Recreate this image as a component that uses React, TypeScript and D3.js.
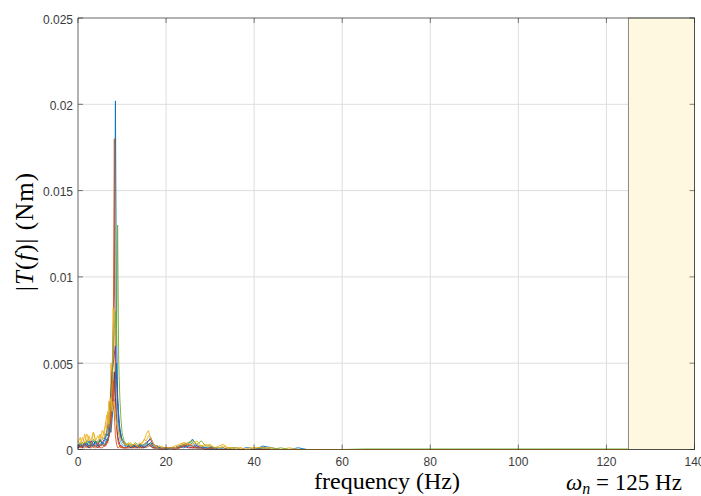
import React from "react";
import * as d3 from "d3";

// frequency grid (Hz) shared by every spectrum
const freqs = [
  0, 0.5, 1, 1.5, 2, 2.5, 3, 3.5, 4, 4.5, 5, 5.5, 6,
  6.25, 6.5, 6.75, 7, 7.25, 7.5, 7.75, 8, 8.25, 8.5, 8.75, 9, 9.25, 9.5, 9.75, 10, 10.25, 10.5, 10.75, 11,
  11.5, 12, 12.5, 13, 13.5, 14, 14.5, 15, 15.5, 16, 16.5, 17, 17.5, 18, 18.5, 19, 19.5, 20,
  21, 22, 23, 24, 25, 26, 27, 28, 29, 30, 31, 32, 33, 34, 35, 36, 37, 38, 39, 40,
  42, 44, 46, 48, 50, 52, 54, 56, 58, 60,
  65, 70, 75, 80, 85, 90, 95, 100, 105, 110, 115, 120, 125,
];

// |T(f)| per run, in units of 1e-4 Nm
const blueRun = [
  2, 4, 1, 4, 2, 5, 2, 5, 3, 2, 6, 3, 5,
  6, 9, 8, 14, 20, 28, 45, 70, 90, 202, 70, 30, 18, 12, 8, 6, 5, 4, 3, 3,
  3, 2, 2, 3, 2, 2, 1, 2, 3, 5, 7, 4, 2, 2, 1, 1, 1, 1,
  1, 1, 1, 2, 3, 6, 2, 2, 1, 1, 1, 1, 0, 1, 1, 1, 0, 1, 1, 0,
  2, 1, 0, 0, 1, 0, 0, 0, 0, 0,
  0, 0, 0, 0, 0, 0, 0, 0, 0, 0, 0, 0, 0,
];
const orangeRun = [
  1, 2, 1, 1, 2, 1, 1, 2, 1, 2, 1, 1, 2,
  2, 3, 5, 8, 15, 28, 45, 60, 180, 40, 15, 6, 3, 2, 1, 1, 1, 1, 1, 1,
  1, 1, 2, 1, 1, 1, 2, 1, 2, 3, 2, 1, 1, 1, 1, 1, 1, 1,
  1, 1, 2, 3, 2, 1, 1, 1, 1, 0, 1, 0, 0, 1, 0, 0, 0, 0, 0, 0,
  1, 0, 0, 0, 0, 0, 0, 0, 0, 0,
  0, 0, 0, 0, 0, 0, 0, 0, 0, 0, 0, 0, 0,
];
const yellowRun = [
  4, 7, 2, 9, 4, 8, 3, 10, 5, 4, 9, 6, 12,
  14, 20, 16, 28, 22, 50, 25, 82, 40, 30, 22, 15, 10, 8, 6, 5, 4, 4, 3, 3,
  3, 4, 2, 3, 2, 3, 4, 5, 9, 11, 6, 3, 2, 2, 1, 2, 1, 1,
  1, 2, 3, 4, 3, 5, 3, 2, 3, 2, 1, 2, 3, 1, 1, 1, 1, 0, 1, 1,
  1, 1, 0, 1, 0, 0, 0, 0, 0, 0,
  0, 0, 0, 0, 0, 0, 0, 0, 0, 0, 0, 0, 0,
];
const purpleRun = [
  2, 3, 2, 4, 3, 2, 5, 3, 4, 3, 5, 4, 6,
  8, 10, 14, 18, 25, 35, 45, 50, 55, 60, 40, 25, 15, 10, 7, 5, 4, 3, 3, 2,
  2, 2, 3, 2, 2, 3, 2, 3, 4, 5, 6, 3, 2, 2, 1, 1, 1, 1,
  1, 1, 2, 2, 3, 2, 2, 1, 1, 1, 1, 0, 1, 0, 0, 0, 0, 0, 0, 0,
  0, 0, 0, 0, 0, 0, 0, 0, 0, 0,
  0, 0, 0, 0, 0, 0, 0, 0, 0, 0, 0, 0, 0,
];
const greenRun = [
  3, 2, 4, 3, 5, 4, 3, 6, 4, 5, 4, 6, 7,
  8, 10, 12, 15, 20, 30, 40, 55, 70, 80, 60, 130, 50, 30, 18, 10, 7, 5, 4, 3,
  3, 3, 2, 4, 3, 2, 3, 2, 4, 3, 4, 2, 2, 1, 2, 1, 1, 1,
  1, 1, 2, 3, 4, 5, 3, 5, 2, 2, 1, 1, 1, 0, 1, 0, 0, 0, 0, 0,
  1, 0, 1, 0, 0, 0, 0, 0, 0, 0,
  0.3, 0.3, 0.3, 0.3, 0.3, 0.3, 0.3, 0.3, 0.3, 0.3, 0.3, 0.3, 0.3,
];
const cyanRun = [
  2, 1, 3, 2, 2, 3, 2, 2, 3, 2, 3, 2, 3,
  3, 4, 5, 7, 10, 14, 20, 25, 28, 30, 25, 15, 10, 6, 4, 3, 2, 2, 2, 1,
  2, 2, 1, 2, 2, 1, 2, 2, 3, 2, 2, 1, 1, 1, 1, 1, 0, 1,
  1, 1, 1, 2, 2, 2, 1, 1, 1, 1, 0, 1, 0, 0, 0, 0, 0, 0, 0, 0,
  0, 0, 0, 0, 0, 0, 0, 0, 0, 0,
  0, 0, 0, 0, 0, 0, 0, 0, 0, 0, 0, 0, 0,
];
const redRun = [
  1, 2, 1, 3, 2, 1, 2, 3, 2, 1, 2, 3, 2,
  3, 4, 6, 8, 12, 18, 25, 35, 45, 30, 15, 8, 5, 3, 2, 2, 1, 1, 1, 1,
  2, 1, 1, 2, 1, 2, 1, 1, 2, 3, 2, 1, 1, 1, 1, 0, 1, 1,
  1, 1, 1, 2, 1, 1, 1, 1, 0, 1, 0, 0, 0, 0, 0, 0, 0, 0, 0, 0,
  0, 0, 0, 0, 0, 0, 0, 0, 0, 0,
  0, 0, 0, 0, 0, 0, 0, 0, 0, 0, 0, 0, 0,
];
const blueRun2 = [
  1, 3, 2, 2, 4, 1, 3, 2, 5, 2, 3, 4, 3,
  4, 6, 5, 9, 12, 10, 18, 25, 35, 42, 50, 30, 20, 12, 9, 5, 4, 3, 2, 2,
  2, 1, 2, 2, 1, 3, 2, 1, 2, 3, 4, 2, 1, 1, 1, 1, 1, 0,
  1, 1, 2, 1, 2, 4, 1, 1, 1, 0, 1, 0, 0, 0, 0, 0, 0, 0, 0, 0,
  1, 0, 0, 0, 0, 0, 0, 0, 0, 0,
  0, 0, 0, 0, 0, 0, 0, 0, 0, 0, 0, 0, 0,
];
const orangeRun2 = [
  2, 1, 2, 3, 1, 2, 3, 1, 2, 4, 2, 3, 2,
  3, 5, 4, 7, 10, 16, 25, 40, 20, 8, 3, 1, 1, 2, 1, 2, 1, 1, 1, 1,
  1, 2, 1, 1, 2, 1, 1, 2, 1, 2, 3, 1, 1, 1, 0, 1, 0, 1,
  1, 0, 1, 2, 3, 2, 1, 1, 0, 1, 0, 0, 0, 0, 0, 0, 0, 0, 0, 0,
  0, 0, 0, 0, 0, 0, 0, 0, 0, 0,
  0, 0, 0, 0, 0, 0, 0, 0, 0, 0, 0, 0, 0,
];
const yellowRun2 = [
  5, 3, 7, 4, 9, 5, 6, 10, 5, 8, 6, 11, 8,
  16, 12, 22, 15, 26, 30, 22, 28, 25, 20, 15, 12, 9, 7, 6, 5, 4, 3, 3, 2,
  4, 2, 3, 3, 2, 4, 3, 6, 5, 8, 7, 4, 2, 1, 2, 1, 1, 1,
  1, 1, 2, 4, 3, 3, 5, 2, 2, 3, 1, 1, 2, 1, 1, 0, 1, 0, 0, 1,
  1, 0, 0, 0, 0, 0, 0, 0, 0, 0,
  0, 0, 0, 0, 0, 0, 0, 0, 0, 0, 0, 0, 0,
];

const runs = [
  blueRun, orangeRun, yellowRun, purpleRun, greenRun, cyanRun, redRun,
  blueRun2, orangeRun2, yellowRun2,
];
const palette = ["#0072BD", "#D95319", "#EDB120", "#7E2F8E", "#77AC30", "#4DBEEE", "#A2142F"];

const xTicks = [0, 20, 40, 60, 80, 100, 120, 140];
const yTicks = [0, 0.005, 0.01, 0.015, 0.02, 0.025];
const yTickLabels = ["0", "0.005", "0.01", "0.015", "0.02", "0.025"];
const bandStart = 125;

const W = 701;
const H = 496;
const margin = { top: 18, right: 6.5, bottom: 46.5, left: 78 };

export default function App() {
  const x = d3.scaleLinear().domain([0, 140]).range([margin.left, W - margin.right]);
  const y = d3.scaleLinear().domain([0, 0.025]).range([H - margin.bottom, margin.top]);

  const line = d3
    .line<number>()
    .x((_, i) => x(freqs[i]))
    .y((d) => y(d * 1e-4));

  const [x0, x1] = x.range();
  const [y0, y1] = y.range();
  const tick = 5;
  const axisCol = "#262626";

  return (
    <svg
      width={W}
      height={H}
      style={{ position: "absolute", left: 0, top: 0, background: "#fff" }}
    >
      {/* grid */}
      <g stroke="#dedede" strokeWidth={1}>
        {xTicks.map((t) => (
          <line key={"gx" + t} x1={x(t)} x2={x(t)} y1={y1} y2={y0} />
        ))}
        {yTicks.map((t) => (
          <line key={"gy" + t} x1={x0} x2={x1} y1={y(t)} y2={y(t)} />
        ))}
      </g>

      {/* spectra */}
      <g fill="none" strokeWidth={0.9} strokeLinejoin="round">
        {runs.map((r, i) => (
          <path key={i} d={line(r) || ""} stroke={palette[i % palette.length]} />
        ))}
      </g>

      {/* band above natural frequency */}
      <rect
        x={x(bandStart)}
        y={y1}
        width={x(140) - x(bandStart)}
        height={y0 - y1}
        fill="#fff8e0"
        stroke="#8a8a80"
        strokeWidth={1}
      />

      {/* box and ticks */}
      <g stroke={axisCol} strokeWidth={0.6} fill="none">
        <rect x={x0} y={y1} width={x1 - x0} height={y0 - y1} />
        {xTicks.map((t) => (
          <g key={"tx" + t}>
            <line x1={x(t)} x2={x(t)} y1={y0} y2={y0 - tick} />
            <line x1={x(t)} x2={x(t)} y1={y1} y2={y1 + tick} />
          </g>
        ))}
        {yTicks.map((t) => (
          <g key={"ty" + t}>
            <line x1={x0} x2={x0 + tick} y1={y(t)} y2={y(t)} />
            <line x1={x1} x2={x1 - tick} y1={y(t)} y2={y(t)} />
          </g>
        ))}
      </g>

      {/* tick labels */}
      <g fontFamily="'Liberation Sans', Arial, sans-serif" fontSize={12} fill="#3a3a3a">
        {xTicks.map((t) => (
          <text key={"lx" + t} x={x(t)} y={y0 + 16.5} textAnchor="middle">
            {t}
          </text>
        ))}
        {yTicks.map((t, i) => (
          <text key={"ly" + t} x={x0 - 5} y={y(t) + 5.5} textAnchor="end">
            {yTickLabels[i]}
          </text>
        ))}
      </g>

      {/* axis labels */}
      <g fontFamily="'Liberation Serif', 'DejaVu Serif', serif" fill="#000">
        <text x={387} y={489} textAnchor="middle" fontSize={24}>
          frequency (Hz)
        </text>
        <text x={624} y={490} textAnchor="middle" fontSize={23}>
          <tspan fontStyle="italic">ω</tspan>
          <tspan fontStyle="italic" fontSize={16} dy={4}>n</tspan>
          <tspan dy={-4}> = 125 Hz</tspan>
        </text>
        <text
          transform={`translate(33,231.5) rotate(-90)`}
          textAnchor="middle"
          fontSize={25}
          letterSpacing={1}
        >
          |<tspan fontStyle="italic">T</tspan>(<tspan fontStyle="italic">f</tspan>)| (Nm)
        </text>
      </g>
    </svg>
  );
}
